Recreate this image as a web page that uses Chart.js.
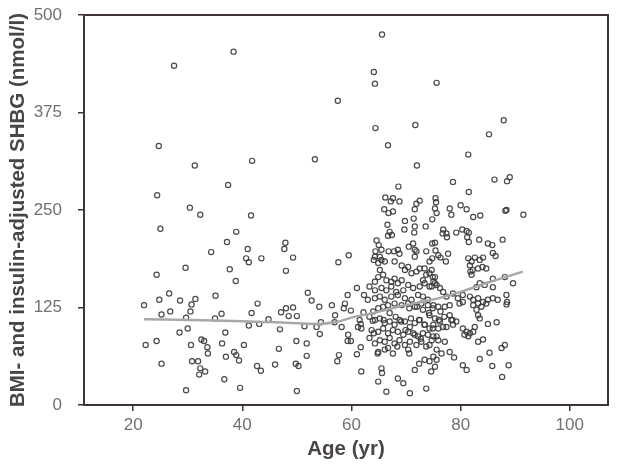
<!DOCTYPE html>
<html>
<head>
<meta charset="utf-8">
<script src="https://cdn.jsdelivr.net/npm/chart.js@4.4.1/dist/chart.umd.min.js"></script>
<style>
  html, body { margin: 0; padding: 0; background: #fff; }
</style>
</head>
<body>
<canvas id="chart" width="619" height="464"></canvas>
<script>
// age (yr) of each subject
const ages = [
  // outliers / upper part
  65.6, 38.4, 27.5, 64.1, 64.3, 75.6, 57.5, 64.4, 71.7, 87.9,
  85.2, 24.7, 66.7, 81.4, 31.3, 41.8, 53.3, 72.0, 88.5, 89.0,
  86.2, 78.6, 37.4, 68.6, 24.4, 81.5, 30.4, 32.3, 41.6, 25.0,
  38.9, 37.2, 47.9, 47.7, 41.0, 34.3, 49.3, 40.7, 41.2, 43.5,
  59.5, 57.6, 29.6, 37.7, 48.0, 24.3, 38.8, 91.5, 88.2, 89.6,
  87.7, 83.6,
  // younger group, lower part
  22.0, 22.3, 24.8, 26.6, 28.6, 31.4, 30.7, 30.5, 25.2, 26.8,
  29.7, 35.1, 36.2, 35.0, 28.5, 30.0, 24.3, 30.6, 32.5, 33.0,
  33.6, 33.7, 36.9, 36.3, 25.2, 30.8, 31.9, 32.3, 32.1, 33.2,
  37.0, 38.5, 38.9, 39.4, 36.7, 29.7, 39.6, 40.3, 42.8, 41.7,
  41.2, 43.1, 42.7, 43.4, 44.8, 46.0, 46.7, 46.9, 47.1, 48.0,
  49.3, 48.5, 50.0, 49.8, 50.3, 49.9, 50.0, 51.8, 51.8, 51.4,
  52.0, 52.7, 54.1, 53.6, 54.2, 54.4, 56.4, 57.0, 56.9, 57.4,
  57.7, 58.2, 58.8, 59.3, 58.6, 59.9, 59.4, 59.3, 59.9, 61.0,
  62.3, 61.5, 61.7, 61.8, 61.7, 61.0, 61.8, 63.3, 63.9, 62.2,
  61.2, 63.0,
  // older cluster, top
  66.2, 67.6, 67.2, 68.8, 71.6, 71.9, 72.5, 75.4, 75.5, 78.0,
  80.0, 81.1, 88.4, 66.0, 66.8, 67.6, 78.3, 82.3, 71.4, 75.3,
  75.6,
  // older cluster 63-75, 135-240
  69.8, 71.6, 73.6, 74.8, 69.7, 71.5, 66.6, 67.0, 67.4, 66.7,
  64.6, 65.0, 65.5, 64.4, 64.3, 65.2, 65.5, 64.1, 64.9, 66.1,
  66.8, 67.8, 68.5, 68.8, 70.5, 71.3, 71.6, 71.9, 71.6, 73.7,
  74.8, 74.8, 74.3, 67.9, 69.2, 69.8, 70.4, 71.0, 71.9, 72.5,
  73.4, 73.7, 73.1, 74.7, 74.9, 65.2, 65.8, 64.9, 66.4, 67.3,
  67.9, 68.5, 69.2, 64.3, 63.3, 64.3, 65.5, 66.4, 67.3, 68.2,
  69.5, 70.4, 71.3, 72.5, 73.4, 74.3, 75.3, 64.3, 65.2, 66.1,
  67.3, 68.5, 69.8, 71.0, 72.2, 73.1, 74.0,
  // older cluster 75-89, 130-225
  76.8, 77.4, 76.7, 77.5, 79.2, 80.3, 81.1, 81.5, 81.2, 81.5,
  83.4, 85.0, 85.8, 75.3, 75.4, 75.9, 76.3, 77.7, 77.3, 85.9,
  86.4, 81.4, 82.0, 82.6, 83.5, 84.1, 81.7, 82.2, 83.2, 84.0,
  84.7, 81.8, 82.0, 74.3, 75.3, 75.0, 75.6, 74.7, 76.2, 76.8,
  85.9, 88.1, 85.9, 83.5, 84.4, 82.9, 77.4, 78.6, 79.5, 80.4,
  81.7, 82.3, 83.2, 84.1, 85.0, 85.9, 86.8, 88.4, 88.5,
  // older cluster 63-75, below 130
  64.0, 64.9, 65.8, 66.7, 67.9, 69.2, 70.4, 71.6, 72.8, 74.0,
  74.9, 64.3, 65.2, 66.1, 67.0, 67.9, 68.8, 69.8, 70.7, 71.6,
  72.5, 73.4, 74.3, 63.7, 64.9, 65.8, 66.7, 67.6, 68.5, 69.5,
  70.4, 71.3, 72.2, 73.1, 74.0, 63.3, 64.3, 65.2, 66.1, 67.0,
  67.9, 68.8, 69.8, 70.7, 71.9, 72.8, 73.7, 74.7, 64.9, 66.1,
  66.7, 67.6, 70.4, 65.5, 65.6, 71.6, 64.9, 68.5, 69.5, 66.4,
  70.7, 73.7, 74.6, 73.4, 74.3, 72.4,
  // dense core of the older cluster
  70.6, 72.0, 73.1, 74.2, 70.9, 72.4, 73.4, 74.9, 69.1, 68.1,
  67.0, 65.9, 69.9, 71.6, 72.7, 76.0, 76.3, 77.0, 77.4, 78.5,
  75.6, 68.4, 70.6, 64.8, 64.1,
  // older cluster 75-89, below 130
  75.0, 75.9, 77.1, 78.0, 79.8, 80.4, 82.3, 83.2, 83.8, 84.7,
  88.4, 74.3, 75.3, 76.2, 75.0, 75.9, 76.8, 78.0, 78.3, 78.6,
  79.2, 82.9, 83.2, 83.5, 80.4, 81.1, 81.7, 82.3, 82.6, 80.7,
  81.4, 85.0, 86.6, 75.0, 75.9, 77.1, 74.3, 75.6, 76.5, 75.0,
  75.6, 75.3, 78.0, 78.8, 83.2, 84.1, 85.3, 87.5, 88.1, 83.5,
  80.4, 81.1, 85.8, 88.8, 87.6
];

// BMI- and insulin-adjusted SHBG (nmol/l), same order as ages
const shbg = [
  475, 453, 435, 427, 412, 413, 390, 355, 359, 365,
  347, 332, 333, 321, 307, 313, 315, 307, 287, 292,
  289, 286, 282, 280, 269, 273, 253, 244, 243, 226,
  222, 209, 208, 200, 200, 196, 189, 188, 183, 188,
  192, 183, 176, 174, 172, 167, 159, 244, 249, 156,
  212, 243,

  128, 77, 135, 143, 134, 136, 129, 120, 116, 120,
  112, 140, 117, 111, 93, 98, 82, 77, 84, 82,
  74, 66, 93, 79, 53, 56, 56, 47, 39, 43,
  62, 68, 64, 57, 33, 19, 22, 77, 130, 118,
  102, 104, 50, 44, 110, 52, 72, 97, 119, 124,
  125, 114, 114, 53, 50, 82, 18, 79, 63, 101,
  144, 134, 126, 100, 91, 106, 128, 115, 106, 56,
  64, 100, 130, 141, 124, 121, 90, 82, 82, 150,
  141, 109, 104, 98, 74, 65, 43, 113, 108, 119,
  100, 135,

  266, 265, 261, 261, 251, 258, 262, 265, 260, 252,
  256, 251, 250, 251, 246, 248, 244, 241, 239, 252,
  246,

  236, 229, 229, 238, 225, 221, 231, 222, 218, 217,
  211, 205, 199, 197, 190, 190, 186, 186, 182, 184,
  197, 197, 199, 194, 203, 207, 199, 197, 190, 197,
  207, 188, 184, 184, 179, 173, 177, 169, 171, 175,
  175, 167, 160, 173, 164, 173, 167, 164, 160, 158,
  162, 156, 160, 158, 152, 147, 150, 147, 152, 145,
  147, 154, 150, 152, 156, 152, 156, 137, 139, 135,
  139, 141, 137, 135, 141, 139, 135,

  225, 220, 220, 215, 221, 225, 223, 221, 215, 209,
  212, 207, 205, 208, 198, 192, 189, 194, 184, 195,
  191, 188, 184, 189, 186, 189, 179, 173, 175, 177,
  175, 171, 167, 169, 164, 158, 154, 152, 150, 145,
  162, 164, 151, 156, 154, 151, 139, 143, 137, 141,
  139, 135, 137, 132, 135, 137, 135, 141, 132,

  120, 124, 126, 128, 130, 128, 130, 126, 130, 128,
  124, 109, 111, 105, 107, 103, 109, 107, 100, 105,
  109, 103, 98, 96, 94, 98, 92, 96, 94, 90,
  94, 92, 88, 92, 90, 86, 79, 83, 81, 86,
  79, 83, 77, 81, 77, 81, 75, 83, 68, 71,
  73, 66, 71, 47, 41, 45, 30, 34, 28, 17,
  15, 21, 43, 58, 56, 53,

  124, 126, 122, 118, 111, 109, 103, 98, 107, 113,
  118, 109, 96, 90, 85, 109, 120, 113, 100, 109,
  88, 75, 66, 66, 92,

  128, 126, 126, 128, 130, 132, 128, 130, 126, 130,
  129, 115, 111, 107, 103, 98, 100, 115, 109, 103,
  107, 122, 115, 111, 98, 94, 92, 94, 100, 90,
  88, 104, 106, 88, 83, 81, 77, 71, 66, 62,
  58, 49, 68, 61, 81, 84, 67, 73, 77, 59,
  51, 45, 50, 51, 36
];

// smoothed trend line
const trendAges = [22, 30, 40, 48, 54, 57, 60, 64, 68, 72, 76, 80, 85, 91.4];
const trendValues = [110, 109, 107.5, 105.5, 104, 106, 112, 118, 125, 131, 137, 145, 157, 171];

const xTicks = [20, 40, 60, 80, 100];
const yTicks = [0, 125, 250, 375, 500];

const axisColor = '#3f3239';
const tickColor = '#727072';
const titleColor = '#4a4446';

const scatterPoints = ages.map((a, i) => ({ x: a, y: shbg[i] }));
const trendPoints = trendAges.map((a, i) => ({ x: a, y: trendValues[i] }));

// chart.js only draws the left and bottom border, so add the frame
const framePlugin = {
    id: 'frame',
    afterDatasetsDraw(chart) {
        const { ctx, chartArea } = chart;
        ctx.save();
        ctx.strokeStyle = axisColor;
        ctx.lineWidth = 2;
        ctx.strokeRect(chartArea.left, chartArea.top, chartArea.right - chartArea.left, chartArea.bottom - chartArea.top);
        ctx.restore();
    }
};

const tickFont = { family: 'Liberation Sans', size: 17 };
const titleFont = { family: 'Liberation Sans', size: 20.5, weight: 'bold' };

new Chart(document.getElementById('chart'), {
    data: {
        datasets: [
            {
                type: 'line',
                data: trendPoints,
                borderColor: '#a4aaa4',
                borderWidth: 2.5,
                pointRadius: 0,
                tension: 0.4,
                order: 0
            },
            {
                type: 'scatter',
                data: scatterPoints,
                pointRadius: 2.6,
                pointBorderWidth: 1.2,
                pointBorderColor: 'rgba(62, 58, 60, 0.92)',
                pointBackgroundColor: 'rgba(255, 255, 255, 0)',
                order: 1
            }
        ]
    },
    options: {
        responsive: false,
        animation: false,
        layout: { padding: { left: 0, right: 11, top: 15, bottom: 0 } },
        plugins: {
            legend: { display: false },
            tooltip: { enabled: false }
        },
        scales: {
            x: {
                type: 'linear',
                min: 11,
                max: 107,
                afterBuildTicks: scale => { scale.ticks = xTicks.map(v => ({ value: v })); },
                afterFit: scale => { scale.height = 59; },
                grid: { drawOnChartArea: false, drawTicks: true, tickLength: 6, color: axisColor, lineWidth: 1.5 },
                border: { display: true, color: axisColor, width: 2 },
                ticks: { color: tickColor, font: tickFont, padding: 4 },
                title: {
                    display: true,
                    text: 'Age (yr)',
                    color: titleColor,
                    font: titleFont,
                    padding: { top: 0, bottom: 2 }
                }
            },
            y: {
                type: 'linear',
                min: 0,
                max: 500,
                afterBuildTicks: scale => { scale.ticks = yTicks.map(v => ({ value: v })); },
                // wide label gap would otherwise push the plot top down
                afterFit: scale => {
                    scale.width = 84;
                    scale.paddingTop = 10;
                    scale.paddingBottom = 10;
                },
                grid: { drawOnChartArea: false, drawTicks: true, tickLength: 6, color: axisColor, lineWidth: 1.5 },
                border: { display: true, color: axisColor, width: 2 },
                ticks: { color: tickColor, font: tickFont, padding: 16 },
                title: {
                    display: true,
                    text: 'BMI- and insulin-adjusted SHBG (nmol/l)',
                    color: titleColor,
                    font: titleFont,
                    padding: { top: 6, bottom: 0 }
                }
            }
        }
    },
    plugins: [framePlugin]
});
</script>
</body>
</html>
